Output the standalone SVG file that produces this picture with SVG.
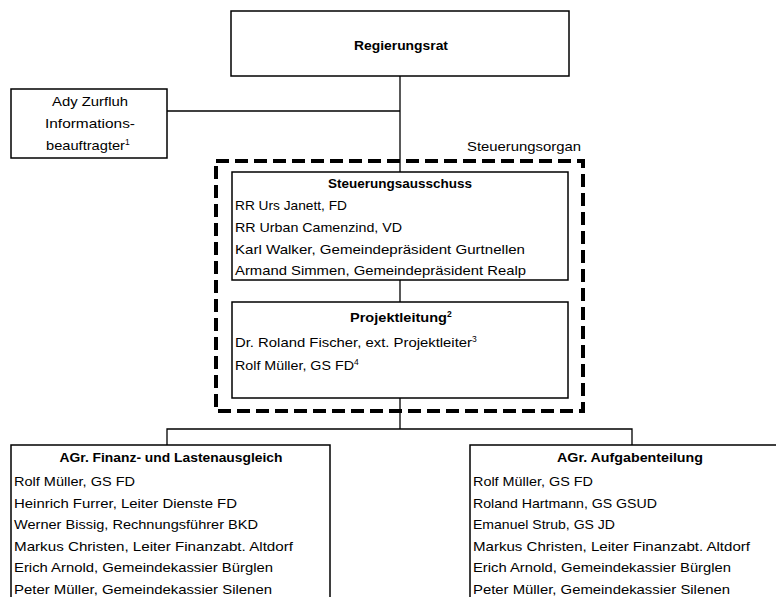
<svg xmlns="http://www.w3.org/2000/svg" width="776" height="597" viewBox="0 0 776 597">
<style>
text{font-family:"Liberation Sans",Arial,sans-serif;font-size:13.5px;fill:#000}
.b{font-weight:bold}
.c{text-anchor:middle}
.sup{font-size:8.5px}
.box{fill:#fff;stroke:#000;stroke-width:1.5}
.ln{fill:none;stroke:#000;stroke-width:1.3}
.dash{fill:none;stroke:#000;stroke-width:4;stroke-dasharray:13 6}
</style>
<rect width="776" height="597" fill="#fff"/>
<g id="connectors">
<line class="ln" x1="400" y1="76" x2="400" y2="429"/>
<line class="ln" x1="167" y1="111" x2="400" y2="111"/>
<polyline class="ln" points="167,445 167,429 632,429 632,445"/>
</g>
<g id="steuerungsorgan">
<rect class="dash" x="216" y="161" width="367" height="250"/>
<text x="467" y="151" textLength="114" lengthAdjust="spacingAndGlyphs">Steuerungsorgan</text>
</g>
<g id="regierungsrat">
<rect class="box" x="231" y="11" width="338" height="65"/>
<text class="b c" x="401" y="50" textLength="94" lengthAdjust="spacingAndGlyphs">Regierungsrat</text>
</g>
<g id="informationsbeauftragter">
<rect class="box" x="11" y="89" width="156" height="69"/>
<text class="c" x="90" y="106" textLength="76" lengthAdjust="spacingAndGlyphs">Ady Zurfluh</text>
<text class="c" x="90" y="128" textLength="90" lengthAdjust="spacingAndGlyphs">Informations-</text>
<text x="46" y="150"><tspan textLength="79" lengthAdjust="spacingAndGlyphs">beauftragter</tspan><tspan class="sup" dy="-5">1</tspan></text>
</g>
<g id="steuerungsausschuss">
<rect class="box" x="232" y="172" width="336" height="108"/>
<text class="b c" x="400" y="188" textLength="144" lengthAdjust="spacingAndGlyphs">Steuerungsausschuss</text>
<text x="235" y="210" textLength="112" lengthAdjust="spacingAndGlyphs">RR Urs Janett, FD</text>
<text x="235" y="232" textLength="167" lengthAdjust="spacingAndGlyphs">RR Urban Camenzind, VD</text>
<text x="235" y="254" textLength="290" lengthAdjust="spacingAndGlyphs">Karl Walker, Gemeindepräsident Gurtnellen</text>
<text x="235" y="275" textLength="291" lengthAdjust="spacingAndGlyphs">Armand Simmen, Gemeindepräsident Realp</text>
</g>
<g id="projektleitung">
<rect class="box" x="232" y="302" width="336" height="96"/>
<text class="b" x="350" y="322"><tspan textLength="97" lengthAdjust="spacingAndGlyphs">Projektleitung</tspan><tspan class="sup" dy="-5">2</tspan></text>
<text x="235" y="347"><tspan textLength="237" lengthAdjust="spacingAndGlyphs">Dr. Roland Fischer, ext. Projektleiter</tspan><tspan class="sup" dy="-5">3</tspan></text>
<text x="235" y="370"><tspan textLength="119" lengthAdjust="spacingAndGlyphs">Rolf Müller, GS FD</tspan><tspan class="sup" dy="-5">4</tspan></text>
</g>
<g id="agr-finanz">
<rect class="box" x="11" y="445" width="319" height="160"/>
<text class="b c" x="171" y="462" textLength="223" lengthAdjust="spacingAndGlyphs">AGr. Finanz- und Lastenausgleich</text>
<text x="14" y="486" textLength="121" lengthAdjust="spacingAndGlyphs">Rolf Müller, GS FD</text>
<text x="14" y="507.5" textLength="223" lengthAdjust="spacingAndGlyphs">Heinrich Furrer, Leiter Dienste FD</text>
<text x="14" y="529" textLength="244" lengthAdjust="spacingAndGlyphs">Werner Bissig, Rechnungsführer BKD</text>
<text x="14" y="550.5" textLength="279" lengthAdjust="spacingAndGlyphs">Markus Christen, Leiter Finanzabt. Altdorf</text>
<text x="14" y="572" textLength="259" lengthAdjust="spacingAndGlyphs">Erich Arnold, Gemeindekassier Bürglen</text>
<text x="14" y="593.5" textLength="258" lengthAdjust="spacingAndGlyphs">Peter Müller, Gemeindekassier Silenen</text>
</g>
<g id="agr-aufgaben">
<rect class="box" x="470" y="445" width="320" height="160"/>
<text class="b c" x="630" y="462" textLength="146" lengthAdjust="spacingAndGlyphs">AGr. Aufgabenteilung</text>
<text x="473" y="486" textLength="120" lengthAdjust="spacingAndGlyphs">Rolf Müller, GS FD</text>
<text x="473" y="507.5" textLength="184" lengthAdjust="spacingAndGlyphs">Roland Hartmann, GS GSUD</text>
<text x="473" y="529" textLength="142" lengthAdjust="spacingAndGlyphs">Emanuel Strub, GS JD</text>
<text x="473" y="550.5" textLength="277" lengthAdjust="spacingAndGlyphs">Markus Christen, Leiter Finanzabt. Altdorf</text>
<text x="473" y="572" textLength="258" lengthAdjust="spacingAndGlyphs">Erich Arnold, Gemeindekassier Bürglen</text>
<text x="473" y="593.5" textLength="257" lengthAdjust="spacingAndGlyphs">Peter Müller, Gemeindekassier Silenen</text>
</g>
</svg>
